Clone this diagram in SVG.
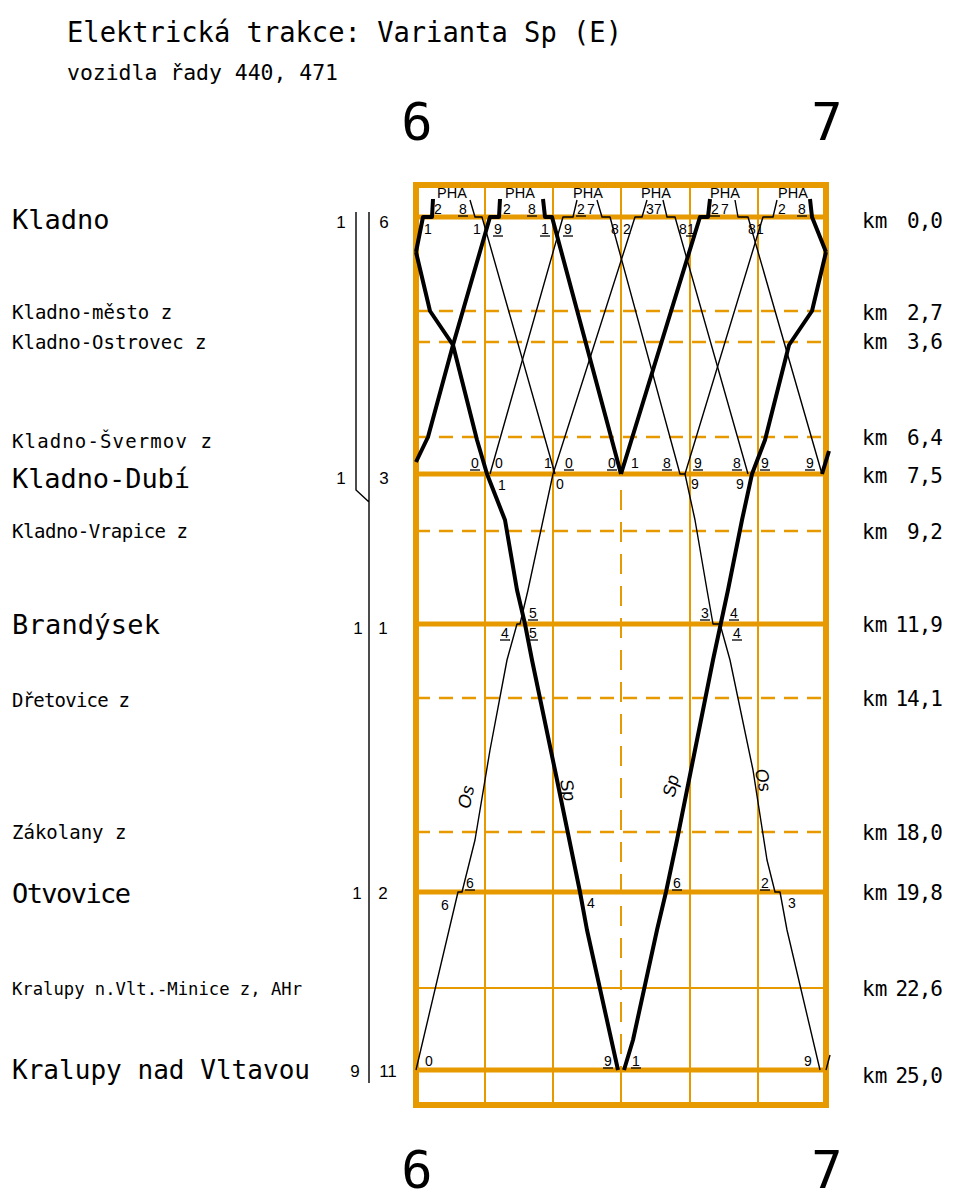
<svg xmlns="http://www.w3.org/2000/svg" width="956" height="1198" viewBox="0 0 956 1198">
<style>
.fr{stroke:#E69A00;stroke-width:6;fill:none}
.st{stroke:#E69A00;stroke-width:5;fill:none}
.gv{stroke:#E69A00;stroke-width:2;fill:none}
.gd{stroke:#E69A00;stroke-width:2.5;stroke-dasharray:14 9;fill:none}
.gdv{stroke:#E69A00;stroke-width:2;stroke-dasharray:20 12;fill:none}
.tk{stroke:#000;stroke-width:4;fill:none;stroke-linejoin:round}
.tn{stroke:#000;stroke-width:1.4;fill:none;stroke-linejoin:round}
.trk{stroke:#000;stroke-width:1.4;fill:none}
.mono{font-family:"DejaVu Sans Mono",monospace;fill:#000}
.big{font-size:27px}
.sm{font-size:19px}
.km{font-family:"DejaVu Sans Mono",monospace;font-size:21px;fill:#000}
.kv{font-family:"DejaVu Sans Mono",monospace;font-size:21px;fill:#000;text-anchor:end;letter-spacing:-1px}
.n{font-family:"Liberation Sans",Arial,sans-serif;font-size:14px;fill:#000;text-anchor:middle}
.tr{font-family:"Liberation Sans",Arial,sans-serif;font-size:17px;fill:#000;text-anchor:middle}
.ph{font-family:"Liberation Sans",Arial,sans-serif;font-size:14.5px;fill:#000;text-anchor:middle}
.cat{font-family:"Liberation Sans",Arial,sans-serif;font-size:18px;font-style:italic;fill:#000;text-anchor:middle;dominant-baseline:central}
.ul{stroke:#000;stroke-width:1.3}
.hr{font-family:"DejaVu Sans Mono",monospace;font-size:52px;fill:#000;text-anchor:middle}
</style>

<g id="title">
<text class="mono" x="67" y="42" font-size="29" textLength="555" lengthAdjust="spacingAndGlyphs">Elektrická trakce: Varianta Sp (E)</text>
<text class="mono" x="67" y="80" font-size="22" textLength="271" lengthAdjust="spacingAndGlyphs">vozidla řady 440, 471</text>
</g>

<g id="hours">
<text class="hr" x="417" y="140">6</text>
<text class="hr" x="827" y="140">7</text>
<text class="hr" x="417" y="1188">6</text>
<text class="hr" x="827" y="1188">7</text>
</g>

<g id="grid">
<path class="gv" d="M485,185V1105M553,185V1105M690,185V1105M758,185V1105M621,185V474M621,1070V1105"/>
<path class="gdv" d="M621,490V1070"/>
<path class="gd" d="M416,311H826M416,342H826M416,437H826M416,531H826M416,698H826M416,832H826"/>
<path class="gv" d="M416,988H826"/>
<path class="st" d="M416,217H826M416,474H826M416,624H826M416,892H826M416,1070H826"/>
<rect class="fr" x="416" y="185" width="410" height="920"/>
</g>

<g id="tracks">
<path class="trk" d="M356,212V490L369,502M369,212V1083"/>
</g>

<g id="stations">
<g id="st-kladno"><text class="mono big" x="12" y="229">Kladno</text><text class="km" x="862" y="228">km</text><text class="kv" x="942" y="228">0,0</text><text class="tr" x="341" y="228">1</text><text class="tr" x="384" y="228">6</text></g>
<g id="st-mesto"><text class="mono sm" x="12" y="319">Kladno-město z</text><text class="km" x="862" y="320">km</text><text class="kv" x="942" y="320">2,7</text></g>
<g id="st-ostrovec"><text class="mono sm" x="12" y="349">Kladno-Ostrovec z</text><text class="km" x="862" y="349">km</text><text class="kv" x="942" y="349">3,6</text></g>
<g id="st-svermov"><text class="mono sm" x="12" y="448" textLength="200">Kladno-Švermov z</text><text class="km" x="862" y="445">km</text><text class="kv" x="942" y="445">6,4</text></g>
<g id="st-dubi"><text class="mono big" x="12" y="488" textLength="178">Kladno-Dubí</text><text class="km" x="862" y="483">km</text><text class="kv" x="942" y="483">7,5</text><text class="tr" x="341" y="484">1</text><text class="tr" x="384" y="484">3</text></g>
<g id="st-vrapice"><text class="mono sm" x="12" y="538" textLength="176">Kladno-Vrapice z</text><text class="km" x="862" y="539">km</text><text class="kv" x="942" y="539">9,2</text></g>
<g id="st-brandysek"><text class="mono big" x="12" y="634" textLength="148">Brandýsek</text><text class="km" x="862" y="632">km</text><text class="kv" x="942" y="632">11,9</text><text class="tr" x="358" y="634">1</text><text class="tr" x="383" y="634">1</text></g>
<g id="st-dretovice"><text class="mono sm" x="12" y="707" textLength="118">Dřetovice z</text><text class="km" x="862" y="706">km</text><text class="kv" x="942" y="706">14,1</text></g>
<g id="st-zakolany"><text class="mono sm" x="12" y="839">Zákolany z</text><text class="km" x="862" y="840">km</text><text class="kv" x="942" y="840">18,0</text></g>
<g id="st-otvovice"><text class="mono big" x="12" y="903" textLength="119">Otvovice</text><text class="km" x="862" y="900">km</text><text class="kv" x="942" y="900">19,8</text><text class="tr" x="357" y="899">1</text><text class="tr" x="383" y="899">2</text></g>
<g id="st-minice"><text class="mono" x="12" y="995" font-size="18" textLength="290" lengthAdjust="spacingAndGlyphs">Kralupy n.Vlt.-Minice z, AHr</text><text class="km" x="862" y="996">km</text><text class="kv" x="942" y="996">22,6</text></g>
<g id="st-kralupy"><text class="mono big" x="12" y="1079" textLength="298" lengthAdjust="spacingAndGlyphs">Kralupy nad Vltavou</text><text class="km" x="862" y="1083">km</text><text class="kv" x="942" y="1083">25,0</text><text class="tr" x="355" y="1077">9</text><text class="tr" x="388" y="1077">11</text></g>
</g>

<g id="pha">
<text class="ph" x="452" y="198">PHA</text>
<text class="ph" x="520" y="198">PHA</text>
<text class="ph" x="588" y="198">PHA</text>
<text class="ph" x="656" y="198">PHA</text>
<text class="ph" x="725" y="198">PHA</text>
<text class="ph" x="793" y="198">PHA</text>
</g>

<g id="connectors">
<path class="tk" d="M810,199L812,217L826,252"/>
<path class="tk" d="M416,252L430,311L453,345L477,440L487,474L505,520L517,590L525,624L532,660L556,775L580,892L587,930L618,1070"/>
<path class="tk" d="M624,1070L633,1040L657,930L666,892L677,840L695,750L713,660L728,590L742,520L752,474L765,440L789,345L812,311L826,252"/>
<path class="tk" d="M416,252L423,217L432,217L433,199"/>
<path class="tk" d="M822,474L829,451"/>
<path class="tk" d="M416,462L428,437L453,345L490,217L499,217L500,199"/>
<path class="tk" d="M543,199L545,217L552,217L621,474"/>
<path class="tk" d="M621,474L700,217L708,217L710,199"/>
<path class="tn" d="M470,200L475,217L482,217L555,474"/>
<path class="tn" d="M490,474L563,217L573,217L577,200"/>
<path class="tn" d="M597,200L602,217L610,217L680,474L685,474L695,520L707,590L713,624L720,624L730,660L753,770L767,860L775,892L780,892L787,930L820,1070"/>
<path class="tn" d="M416,1070L458,892L462,892L475,840L490,750L507,660L517,624L520,624L528,590L553,474L635,217L642,217L647,200"/>
<path class="tn" d="M826,1070L830,1055"/>
<path class="tn" d="M663,200L667,217L675,217L748,474"/>
<path class="tn" d="M685,474L763,217L773,217L777,200"/>
<path class="tn" d="M735,200L738,217L748,217L822,474"/>
</g>

<g id="categories">
<text class="cat" transform="translate(466,797) rotate(-78)">Os</text>
<text class="cat" transform="translate(568,790) rotate(78)">Sp</text>
<text class="cat" transform="translate(671,786) rotate(-78)">Sp</text>
<text class="cat" transform="translate(763,780) rotate(78)">Os</text>
</g>

<g id="minutes">
<text class="n" x="438" y="214">2</text>
<text class="n" x="463" y="214">8</text><line class="ul" x1="458" y1="216" x2="468" y2="216"/>
<text class="n" x="507" y="214">2</text>
<text class="n" x="532" y="214">8</text><line class="ul" x1="527" y1="216" x2="537" y2="216"/>
<text class="n" x="581" y="214">2</text><line class="ul" x1="576" y1="216" x2="586" y2="216"/>
<text class="n" x="591" y="214">7</text>
<text class="n" x="650" y="214">3</text>
<text class="n" x="658" y="214">7</text>
<text class="n" x="715" y="214">2</text><line class="ul" x1="710" y1="216" x2="720" y2="216"/>
<text class="n" x="725" y="214">7</text>
<text class="n" x="782" y="214">2</text>
<text class="n" x="802" y="214">8</text><line class="ul" x1="797" y1="216" x2="807" y2="216"/>
<text class="n" x="428" y="234">1</text>
<text class="n" x="477" y="234">1</text>
<text class="n" x="498" y="234">9</text><line class="ul" x1="493" y1="236" x2="503" y2="236"/>
<text class="n" x="545" y="234">1</text><line class="ul" x1="540" y1="236" x2="550" y2="236"/>
<text class="n" x="568" y="234">9</text><line class="ul" x1="563" y1="236" x2="573" y2="236"/>
<text class="n" x="615" y="234">8</text>
<text class="n" x="627" y="234">2</text>
<text class="n" x="683" y="234">8</text>
<text class="n" x="691" y="234">1</text><line class="ul" x1="686" y1="236" x2="696" y2="236"/>
<text class="n" x="752" y="234">8</text>
<text class="n" x="760" y="234">1</text>
<text class="n" x="475" y="468">0</text><line class="ul" x1="470" y1="470" x2="480" y2="470"/>
<text class="n" x="499" y="468">0</text>
<text class="n" x="548" y="468">1</text>
<text class="n" x="569" y="468">0</text><line class="ul" x1="564" y1="470" x2="574" y2="470"/>
<text class="n" x="612" y="468">0</text><line class="ul" x1="607" y1="470" x2="617" y2="470"/>
<text class="n" x="635" y="468">1</text>
<text class="n" x="667" y="468">8</text><line class="ul" x1="662" y1="470" x2="672" y2="470"/>
<text class="n" x="698" y="468">9</text><line class="ul" x1="693" y1="470" x2="703" y2="470"/>
<text class="n" x="737" y="468">8</text><line class="ul" x1="732" y1="470" x2="742" y2="470"/>
<text class="n" x="765" y="468">9</text><line class="ul" x1="760" y1="470" x2="770" y2="470"/>
<text class="n" x="810" y="468">9</text><line class="ul" x1="805" y1="470" x2="815" y2="470"/>
<text class="n" x="502" y="490">1</text>
<text class="n" x="560" y="489">0</text>
<text class="n" x="695" y="489">9</text>
<text class="n" x="740" y="489">9</text>
<text class="n" x="533" y="618">5</text><line class="ul" x1="528" y1="620" x2="538" y2="620"/>
<text class="n" x="505" y="638">4</text><line class="ul" x1="500" y1="640" x2="510" y2="640"/>
<text class="n" x="533" y="638">5</text><line class="ul" x1="528" y1="640" x2="538" y2="640"/>
<text class="n" x="705" y="618">3</text><line class="ul" x1="700" y1="620" x2="710" y2="620"/>
<text class="n" x="734" y="618">4</text><line class="ul" x1="729" y1="620" x2="739" y2="620"/>
<text class="n" x="737" y="638">4</text><line class="ul" x1="732" y1="640" x2="742" y2="640"/>
<text class="n" x="470" y="888">6</text><line class="ul" x1="465" y1="890" x2="475" y2="890"/>
<text class="n" x="445" y="910">6</text>
<text class="n" x="591" y="908">4</text>
<text class="n" x="677" y="888">6</text><line class="ul" x1="672" y1="890" x2="682" y2="890"/>
<text class="n" x="765" y="888">2</text><line class="ul" x1="760" y1="890" x2="770" y2="890"/>
<text class="n" x="792" y="908">3</text>
<text class="n" x="429" y="1066">0</text>
<text class="n" x="608" y="1066">9</text><line class="ul" x1="603" y1="1068" x2="613" y2="1068"/>
<text class="n" x="636" y="1066">1</text><line class="ul" x1="631" y1="1068" x2="641" y2="1068"/>
<text class="n" x="808" y="1066">9</text>
</g>
</svg>
